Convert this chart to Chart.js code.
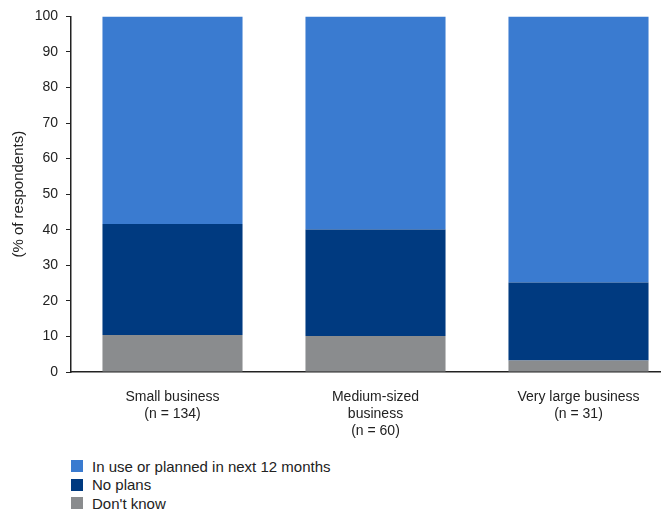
<!DOCTYPE html>
<html>
<head>
<meta charset="utf-8">
<script src="https://cdn.jsdelivr.net/npm/chart.js@4/dist/chart.umd.min.js"></script>
<style>
  html, body { margin: 0; padding: 0; background: #fff; overflow: hidden; }
  #wrap { position: relative; width: 680px; height: 452px; }
  #legend { position: absolute; left: 71px; top: 457px; font: 15px "Liberation Sans", Arial, sans-serif; color: #222; }
  #legend div { height: 18.5px; display: flex; align-items: center; }
  #legend span { display: inline-block; width: 12px; height: 12px; margin-right: 9px; }
</style>
</head>
<body>
<div id="wrap"><canvas id="myChart"></canvas></div>
<div id="legend"></div>
<script>
const categories = [
  ['Small business', '(n = 134)'],
  ['Medium-sized', 'business', '(n = 60)'],
  ['Very large business', '(n = 31)'],
];

const dontKnow = [10.4, 10.1, 3.2];
const noPlans = [31.2, 30.0, 22.0];
const inUse = [58.4, 59.9, 74.8];

const yTicks = [0, 10, 20, 30, 40, 50, 60, 70, 80, 90, 100];

const family = '"Liberation Sans", Arial, sans-serif';

const data = {
  labels: categories,
  datasets: [
    { label: "Don't know", data: dontKnow, backgroundColor: '#8a8c8e' },
    { label: 'No plans', data: noPlans, backgroundColor: '#003a80' },
    { label: 'In use or planned in next 12 months', data: inUse, backgroundColor: '#3a7bd0' },
  ]
};

const config = {
  type: 'bar',
  data: data,
  options: {
    responsive: false,
    animation: false,
    maintainAspectRatio: false,
    layout: { padding: { top: 16, left: 0, right: 0, bottom: 0 } },
    datasets: { bar: { categoryPercentage: 1, barPercentage: 0.69, borderWidth: 0 } },
    plugins: { legend: { display: false }, tooltip: { enabled: false } },
    scales: {
      x: {
        stacked: true,
        grid: { display: false },
        border: { display: true, color: '#222', width: 1.5 },
        ticks: { color: '#222', font: { family: family, size: 14 }, padding: 9, maxRotation: 0 },
        afterFit: function (scale) { scale.height = 80; }
      },
      y: {
        stacked: true,
        min: 0,
        max: 100,
        afterBuildTicks: function (scale) { scale.ticks = yTicks.map(v => ({ value: v })); },
        grid: { drawOnChartArea: false, drawTicks: true, tickLength: 5, color: '#222' },
        border: { display: true, color: '#222', width: 1.5 },
        ticks: { color: '#222', font: { family: family, size: 14 }, padding: 8 },
        title: { display: true, text: '(% of respondents)', color: '#222', font: { family: family, size: 15 }, padding: { top: 10, bottom: 0 } },
        afterFit: function (scale) { scale.width = 71; }
      }
    }
  }
};

const canvas = document.getElementById('myChart');
canvas.width = 680;
canvas.height = 452;
const myChart = new Chart(canvas, config);

const legend = document.getElementById('legend');
data.datasets.slice().reverse().forEach(function (ds) {
  const row = document.createElement('div');
  row.innerHTML = '<span style="background:' + ds.backgroundColor + '"></span>' + ds.label;
  legend.appendChild(row);
});
</script>
</body>
</html>
